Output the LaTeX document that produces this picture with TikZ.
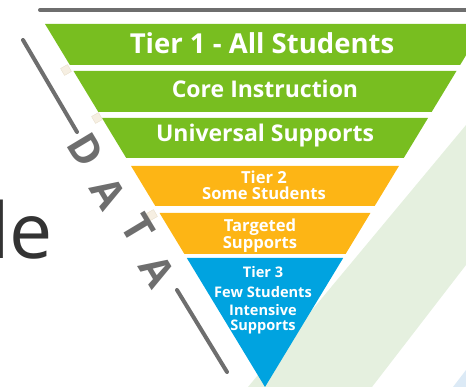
\documentclass[tikz,border=0pt]{standalone}
\usepackage{fontspec}
\setmainfont{Open Sans}
\usepackage{tikz}

\definecolor{tiergreen}{HTML}{78BE20}
\definecolor{tiergold}{HTML}{FDB515}
\definecolor{tierblue}{HTML}{00A3E0}
\definecolor{datagray}{HTML}{6E6E6E}
\definecolor{titlegray}{HTML}{333333}
\definecolor{palegreen}{HTML}{E5F0DF}
\definecolor{paleblue}{HTML}{DCEAF6}
\definecolor{markbeige}{HTML}{F6EFE2}
\definecolor{markedge}{HTML}{E8DFCC}

\tikzset{
  tiertext/.style 2 args={text=white, align=center, inner sep=0pt,
    font=\bfseries\fontsize{#1}{#2}\selectfont},
  dataletter/.style={text=datagray, inner sep=0pt, rotate=-59,
    font=\bfseries\fontsize{41}{41}\selectfont},
  dataline/.style={datagray, line width=4pt, line cap=round},
  tabmark/.style={fill=markbeige, draw=markedge,
    minimum size=8pt, inner sep=0pt, rotate=30},
}

% one slice of the inverted triangle, from y=#1 down to y=#2
\newcommand{\tierband}[3]{%
  \fill[#3] ({265-0.606*(387-#1)},#1) -- ({265+0.606*(387-#1)},#1)
    -- ({265+0.606*(387-#2)},#2) -- ({265-0.606*(387-#2)},#2) -- cycle;}

\begin{document}
\begin{tikzpicture}[x=1pt,y=-1pt]
\clip (0,0) rectangle (466,387);

% background strips
\fill[palegreen] (466,125) -- (466,265) -- (372,387) -- (248,387) -- cycle;
\fill[paleblue] (466,370) -- (466,387) -- (453,387) -- cycle;

\draw[dataline] (40,10) -- (480,10);

% tiers
\tierband{24}{65}{tiergreen}
\tierband{71}{112}{tiergreen}
\tierband{118}{158}{tiergreen}
\tierband{166}{206}{tiergold}
\tierband{213}{254}{tiergold}
\tierband{258}{387}{tierblue}

\node[tiertext={27.5}{29}, anchor=base] (tier1) at (262,54) {Tier 1 - All Students};
\node[tiertext={23}{25}, anchor=base] (core) at (265,98) {Core Instruction};
\node[tiertext={23}{25}, anchor=base] (universal) at (265,142) {Universal Supports};
\node[tiertext={16.6}{16}] (tier2) at (264,185) {Tier 2\\Some Students};
\node[tiertext={16.6}{16}] (targeted) at (260,236) {Targeted\\Supports};
\node[tiertext={14.6}{16}] (tier3) at (263,300)
  {Tier 3\\[4pt]Few Students\\[2pt]Intensive\\[-1pt]Supports};

% little tabs on the left edge
\node[tabmark] (tab1) at (66,70) {};
\node[tabmark] (tab2) at (97,118) {};
\node[tabmark] (tab3) at (152,215) {};

% DATA along the side
\coordinate (dtop) at (23,40);
\coordinate (dtopend) at (77,132);
\coordinate (dbot) at (177,290);
\coordinate (dbotend) at (227,372);
\draw[dataline] (dtop) -- (dtopend);
\draw[dataline] (dbot) -- (dbotend);
\node[dataletter] (dataD) at (86,150) {D};
\node[dataletter] (dataA) at (108,193) {A};
\node[dataletter] (dataT) at (138,228) {T};
\node[dataletter] (dataA2) at (157,271) {A};

\node[text=titlegray, anchor=base east, inner sep=0pt,
  font=\fontsize{77}{77}\selectfont] (title) at (53,259) {le};
\end{tikzpicture}
\end{document}
